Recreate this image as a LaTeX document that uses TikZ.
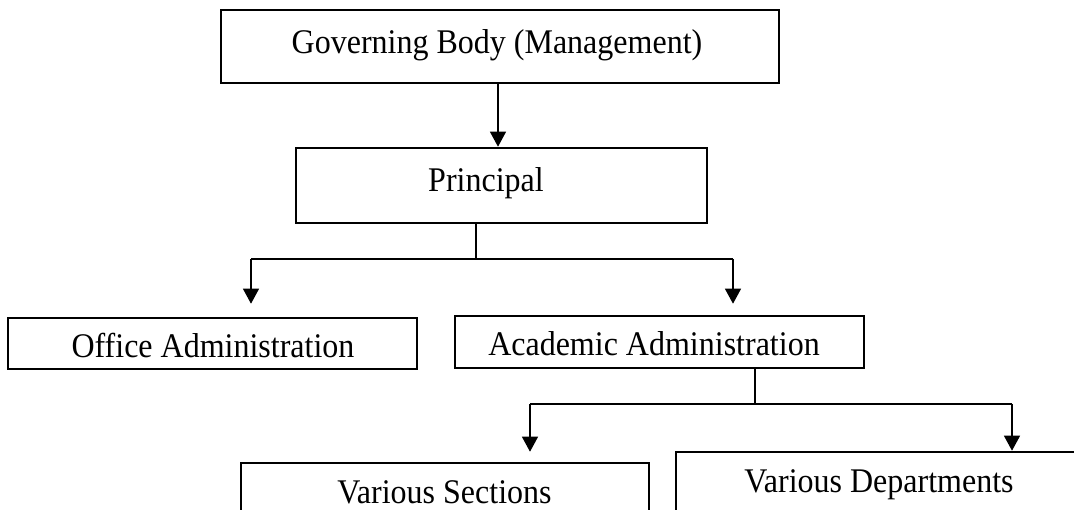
\documentclass[tikz,border=0pt]{standalone}
\usepackage{fontspec}
\setmainfont{Liberation Serif}
\usetikzlibrary{arrows.meta}
\newcommand\stretchtxt[1]{\scalebox{1}[1.08]{#1}}
\tikzset{
  boxnode/.style={draw=black, line width=2.6pt, rectangle, inner sep=0pt},
  lbl/.style={anchor=base, inner sep=0pt, font=\fontsize{32}{38}\selectfont},
  conn/.style={draw=black, line width=1.2pt},
  arr/.style={conn, -{Triangle[width=16pt,length=15pt]}},
}
\begin{document}
\begin{tikzpicture}[x=1pt,y=-1pt]
\useasboundingbox (0,0) rectangle (1074,510);
\clip (0,0) rectangle (1074,510);
\fill[white] (0,0) rectangle (1074,510);
% boxes
\node[boxnode, minimum width=558pt, minimum height=73pt] (gov) at (500,46.5) {};
\node[boxnode, minimum width=411pt, minimum height=75pt] (pri) at (501.5,185.5) {};
\node[boxnode, minimum width=409pt, minimum height=51pt] (off) at (212.5,343.5) {};
\node[boxnode, minimum width=409pt, minimum height=52pt] (aca) at (659.5,342) {};
\node[boxnode, minimum width=408pt, minimum height=80pt] (sec) at (445,503) {};
\node[boxnode, minimum width=420pt, minimum height=90pt] (dep) at (886,497) {};
% texts
\node[lbl] (govt) at (497,54) {\stretchtxt{Governing Body (Management)}};
\node[lbl] (prit) at (486,192) {\stretchtxt{Principal}};
\node[lbl] (offt) at (213,358) {\stretchtxt{Office Administration}};
\node[lbl] (acat) at (654,356) {\stretchtxt{Academic Administration}};
\node[lbl] (sect) at (444.5,503) {\stretchtxt{Various Sections}};
\node[lbl] (dept) at (879,493) {\stretchtxt{Various Departments}};
% junction coordinates
\coordinate (j1) at (476,259);
\coordinate (j1l) at (251,259);
\coordinate (j1r) at (733,259);
\coordinate (j2) at (755,404);
\coordinate (j2l) at (530,404);
\coordinate (j2r) at (1012,404);
% connectors
\draw[arr] (gov.south -| 498,0) -- (pri.north -| 498,0);
\draw[conn] (pri.south -| j1) -- (j1);
\draw[conn] (j1l) -- (j1r);
\draw[arr, shorten >=13pt] (j1l) -- (j1l |- off.north);
\draw[arr, shorten >=11pt] (j1r) -- (j1r |- aca.north);
\draw[conn] (aca.south -| j2) -- (j2);
\draw[conn] (j2l) -- (j2r);
\draw[arr, shorten >=10pt] (j2l) -- (j2l |- sec.north);
\draw[arr] (j2r) -- (j2r |- dep.north);
\end{tikzpicture}
\end{document}
